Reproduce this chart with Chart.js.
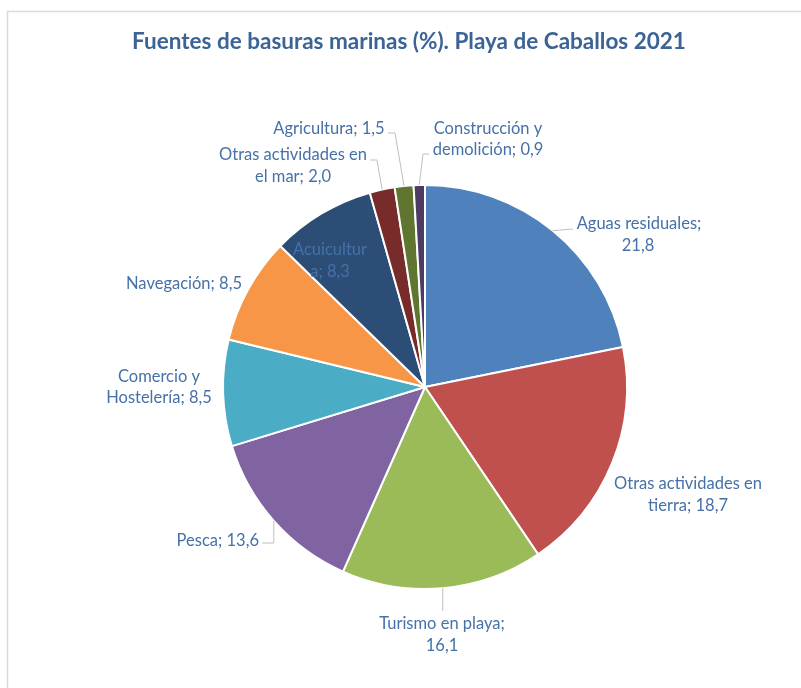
<!DOCTYPE html>
<html>
<head>
<meta charset="utf-8">
<script src="https://cdn.jsdelivr.net/npm/chart.js@4"></script>
<style>
  body { margin: 0; background: #fff; }
  canvas { display: block; }
</style>
</head>
<body>
<canvas id="pieChart" width="801" height="688"></canvas>
<script>
// Datos
const fuentes = ['Aguas residuales', 'Otras actividades en tierra', 'Turismo en playa', 'Pesca',
  'Comercio y Hostelería', 'Navegación', 'Acuicultura', 'Otras actividades en el mar',
  'Agricultura', 'Construcción y demolición'];
const porcentajes = [21.8, 18.7, 16.1, 13.6, 8.5, 8.5, 8.3, 2.0, 1.5, 0.9];
const colores = ['#4F81BD', '#C0504D', '#9BBB59', '#8064A2', '#4BACC6', '#F79646',
  '#2C4D75', '#772C2A', '#5F7530', '#4D3B62'];
const titulo = 'Fuentes de basuras marinas (%). Playa de Caballos 2021';

// label layout: text lines, offset of each line from pie centre, alignment, leader elbow
const etiquetas = [
  { lines: ['Aguas residuales;', '21,8'], pos: [[214, -163], [213, -141]], leader: [[148, -158]] },
  { lines: ['Otras actividades en', 'tierra; 18,7'], pos: [[263, 97], [263, 119]] },
  { lines: ['Turismo en playa;', '16,1'], pos: [[17, 237], [17, 259]], leader: [[null, 224]] },
  { lines: ['Pesca; 13,6'], pos: [[-166, 154]], align: 'right', leader: [[null, 156], [-163, 156]] },
  { lines: ['Comercio y', 'Hostelería; 8,5'], pos: [[-266, -10], [-266, 11]] },
  { lines: ['Navegación; 8,5'], pos: [[-241, -103]] },
  { lines: ['Acuicultur', 'a; 8,3'], pos: [[-95, -137], [-95, -115]] },
  { lines: ['Otras actividades en', 'el mar; 2,0'], pos: [[-132, -232], [-132, -210]], leader: [[-48, -227], [-55, -227]] },
  { lines: ['Agricultura; 1,5'], pos: [[-96, -258]], leader: [[-30, -254], [-37, -254]] },
  { lines: ['Construcción y', 'demolición; 0,9'], pos: [[63, -258], [63, -237]], leader: [[-2, -233], [4, -233]] }
];

const fontFam = 'Lato, "Liberation Sans", sans-serif';

const decoPlugin = {
  id: 'deco',
  afterDraw(chart) {
    const ctx = chart.ctx;
    const meta = chart.getDatasetMeta(0);
    ctx.save();
    // marco
    ctx.strokeStyle = '#D9D9D9';
    ctx.lineWidth = 1.5;
    ctx.beginPath();
    ctx.moveTo(7.5, 688);
    ctx.lineTo(7.5, 11.5);
    ctx.lineTo(801, 11.5);
    ctx.stroke();
    // título
    ctx.fillStyle = '#3B6396';
    ctx.font = 'bold 22.5px ' + fontFam;
    ctx.textAlign = 'center';
    ctx.textBaseline = 'middle';
    ctx.fillText(titulo, 409, 42);

    etiquetas.forEach((et, i) => {
      const arc = meta.data[i];
      const cx = arc.x, cy = arc.y;
      // leader line from slice edge
      if (et.leader) {
        const mid = (arc.startAngle + arc.endAngle) / 2;
        const ex = cx + Math.cos(mid) * arc.outerRadius;
        const ey = cy + Math.sin(mid) * arc.outerRadius;
        ctx.strokeStyle = '#BFBFBF';
        ctx.lineWidth = 1;
        ctx.beginPath();
        ctx.moveTo(ex, ey);
        et.leader.forEach(p => {
          const px = p[0] === null ? ex : cx + p[0];
          ctx.lineTo(px, cy + p[1]);
        });
        ctx.stroke();
      }
      ctx.fillStyle = '#4671A8';
      ctx.font = '16.5px ' + fontFam;
      ctx.textAlign = et.align || 'center';
      ctx.textBaseline = 'middle';
      et.lines.forEach((t, j) => {
        ctx.fillText(t, cx + et.pos[j][0], cy + et.pos[j][1]);
      });
    });
    ctx.restore();
  }
};

new Chart(document.getElementById('pieChart').getContext('2d'), {
  type: 'pie',
  data: {
    labels: fuentes,
    datasets: [{
      data: porcentajes,
      backgroundColor: colores,
      borderColor: '#FFFFFF',
      borderWidth: 2
    }]
  },
  options: {
    responsive: false,
    animation: false,
    layout: { padding: { top: 184, bottom: 98, left: 222, right: 173 } },
    plugins: {
      legend: { display: false },
      tooltip: { enabled: false }
    }
  },
  plugins: [decoPlugin]
});
</script>
</body>
</html>
